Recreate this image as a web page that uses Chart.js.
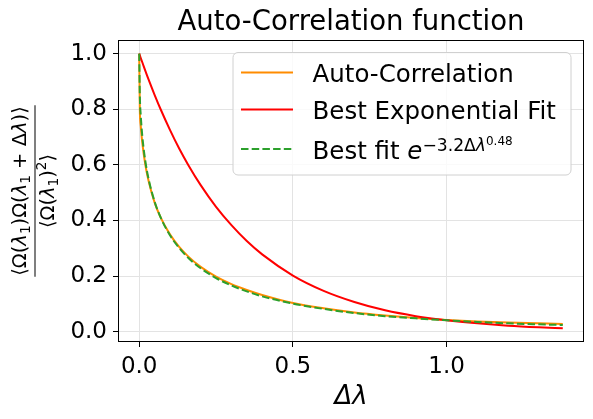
<!DOCTYPE html>
<html>
<head>
<meta charset="utf-8">
<script src="https://cdn.jsdelivr.net/npm/chart.js@4.4.1/dist/chart.umd.min.js"></script>
<style>
  html, body { margin: 0; padding: 0; background: #fff; }
  canvas { display: block; }
</style>
</head>
<body>
<canvas id="acfChart" width="593" height="419"></canvas>
<script>
// lag values (Δλ) and the three curves
const lags = [0, 0.002, 0.005, 0.01, 0.02, 0.03, 0.05, 0.07, 0.1, 0.13, 0.16, 0.2, 0.25,
              0.3, 0.35, 0.4, 0.5, 0.6, 0.7, 0.8, 0.9, 1.0, 1.1, 1.2, 1.3, 1.378];
const autoCorr = [1, 0.80, 0.74, 0.68, 0.60, 0.545, 0.465, 0.41, 0.35, 0.305, 0.27, 0.233, 0.198,
                  0.171, 0.150, 0.132, 0.103, 0.084, 0.069, 0.058, 0.049, 0.042, 0.037, 0.033, 0.030, 0.028];
const expFit = [1, 0.994, 0.984, 0.969, 0.938, 0.908, 0.852, 0.799, 0.726, 0.659, 0.599, 0.527, 0.449,
                0.383, 0.326, 0.278, 0.202, 0.147, 0.107, 0.077, 0.056, 0.041, 0.030, 0.0215, 0.0156, 0.0121];
const stretchedFit = [1, 0.850, 0.778, 0.704, 0.613, 0.552, 0.468, 0.410, 0.347, 0.301, 0.265, 0.228, 0.193,
                      0.166, 0.145, 0.127, 0.101, 0.082, 0.067, 0.056, 0.048, 0.041, 0.035, 0.030, 0.0265, 0.024];

const xTicks = [0, 0.5, 1.0];
const yTicks = [0, 0.2, 0.4, 0.6, 0.8, 1.0];
const seriesLabels = ['Auto-Correlation', 'Best Exponential Fit', 'Best fit '];
const seriesColors = ['#ff8c00', '#ff0000', '#2ca02c'];

const X_MIN = -0.069, X_MAX = 1.447;
const Y_MIN = -0.037, Y_MAX = 1.049;
const FONT = '"DejaVu Sans", sans-serif';

function toPoints(ys) {
  return lags.map((x, i) => ({ x: x, y: ys[i] }));
}

function font(size, italic) {
  return (italic ? 'italic ' : '') + size + 'px ' + FONT;
}

// draws a list of text runs (for sub/superscripts), centred on x
function drawRuns(ctx, runs, x, y, base) {
  let total = 0;
  runs.forEach(r => {
    ctx.font = font(base * (r.s || 1), r.it);
    r.w = ctx.measureText(r.t).width;
    total += r.w;
  });
  let cx = x - total / 2;
  ctx.textAlign = 'left';
  ctx.textBaseline = 'alphabetic';
  runs.forEach(r => {
    ctx.font = font(base * (r.s || 1), r.it);
    ctx.fillText(r.t, cx, y + (r.dy || 0));
    cx += r.w;
  });
  return total;
}

const decorations = {
  id: 'decorations',
  afterDraw(chart) {
    const ctx = chart.ctx;
    const a = chart.chartArea;
    ctx.save();

    // frame
    ctx.strokeStyle = '#000';
    ctx.lineWidth = 1;
    ctx.strokeRect(Math.round(a.left) + 0.5, Math.round(a.top) + 0.5,
                   Math.round(a.right - a.left) - 1, Math.round(a.bottom - a.top) - 1);

    // title
    ctx.fillStyle = '#000';
    ctx.font = font(27.5);
    ctx.textAlign = 'center';
    ctx.textBaseline = 'alphabetic';
    ctx.fillText('Auto-Correlation function', (a.left + a.right) / 2, 29.5);

    // x label
    ctx.font = font(26, true);
    ctx.fillText('Δλ', (a.left + a.right) / 2, 404);

    // y label (fraction, rotated)
    ctx.save();
    ctx.translate(35, (a.top + a.bottom) / 2);
    ctx.rotate(-Math.PI / 2);
    const num = [
      { t: '⟨Ω(' }, { t: 'λ', it: true }, { t: '1', s: 0.7, dy: 4 }, { t: ')Ω(' },
      { t: 'λ', it: true }, { t: '1', s: 0.7, dy: 4 }, { t: ' + Δ' }, { t: 'λ', it: true }, { t: ')⟩' }
    ];
    const den = [
      { t: '⟨Ω(' }, { t: 'λ', it: true }, { t: '1', s: 0.7, dy: 4 }, { t: ')' },
      { t: '2', s: 0.7, dy: -8 }, { t: '⟩' }
    ];
    const nw = drawRuns(ctx, num, 0, -9, 19.5);
    drawRuns(ctx, den, 0, 19, 19.5);
    ctx.fillRect(-nw / 2 - 1, -0.5, nw + 2, 1);
    ctx.restore();

    // legend
    const lx = 233, ly = 52.5, lw = 338, lh = 122.5;
    ctx.beginPath();
    ctx.roundRect(lx, ly, lw, lh, 5);
    ctx.fillStyle = 'rgba(255,255,255,0.8)';
    ctx.fill();
    ctx.strokeStyle = '#d0d0d0';
    ctx.stroke();

    const rows = [72.5, 109.5, 149];
    chart.data.datasets.forEach((ds, i) => {
      const yc = rows[i];
      ctx.beginPath();
      ctx.strokeStyle = ds.borderColor;
      ctx.lineWidth = 2;
      ctx.setLineDash(ds.borderDash || []);
      ctx.moveTo(241, yc);
      ctx.lineTo(293, yc);
      ctx.stroke();
      ctx.setLineDash([]);
      ctx.fillStyle = '#000';
      const runs = [{ t: ds.label }];
      if (i === 2) {
        runs.push({ t: 'e', it: true });
        runs.push({ t: '−3.2Δ', s: 0.7, dy: -7.5 });
        runs.push({ t: 'λ', s: 0.7, dy: -7.5, it: true });
        runs.push({ t: '0.48', s: 0.49, dy: -14 });
      }
      let w = 0;
      runs.forEach(r => { ctx.font = font(24.5 * (r.s || 1), r.it); w += ctx.measureText(r.t).width; });
      drawRuns(ctx, runs, 312.5 + w / 2, yc + 9.5, 24.5);
    });

    ctx.restore();
  }
};

const ctx = document.getElementById('acfChart').getContext('2d');
const acfChart = new Chart(ctx, {
  type: 'scatter',
  data: {
    datasets: [{
      label: seriesLabels[0],
      data: toPoints(autoCorr),
      borderColor: seriesColors[0],
      order: 3
    }, {
      label: seriesLabels[1],
      data: toPoints(expFit),
      borderColor: seriesColors[1],
      order: 2
    }, {
      label: seriesLabels[2],
      data: toPoints(stretchedFit),
      borderColor: seriesColors[2],
      borderDash: [7.5, 3.2],
      order: 1
    }].map(ds => Object.assign(ds, {
      showLine: true,
      pointRadius: 0,
      borderWidth: 2,
      fill: false,
      cubicInterpolationMode: 'monotone'
    }))
  },
  options: {
    responsive: false,
    animation: false,
    layout: { padding: { top: 40, right: 9, left: 0, bottom: 0 } },
    plugins: {
      legend: { display: false },
      title: { display: false },
      tooltip: { enabled: false }
    },
    scales: {
      x: {
        type: 'linear',
        min: X_MIN,
        max: X_MAX,
        afterBuildTicks: s => { s.ticks = xTicks.map(v => ({ value: v })); },
        afterFit: s => { s.height = 77; },
        grid: { color: '#e3e3e3', tickColor: '#000', tickLength: 5 },
        border: { display: false },
        ticks: {
          color: '#000',
          padding: 6,
          maxRotation: 0,
          font: { family: FONT, size: 23 },
          callback: v => v.toFixed(1)
        }
      },
      y: {
        type: 'linear',
        min: Y_MIN,
        max: Y_MAX,
        afterBuildTicks: s => { s.ticks = yTicks.map(v => ({ value: v })); },
        afterFit: s => { s.width = 118; },
        grid: { color: '#e3e3e3', tickColor: '#000', tickLength: 5 },
        border: { display: false },
        ticks: {
          color: '#000',
          padding: 6,
          font: { family: FONT, size: 23 },
          callback: v => v.toFixed(1)
        }
      }
    }
  },
  plugins: [decorations]
});
</script>
</body>
</html>
